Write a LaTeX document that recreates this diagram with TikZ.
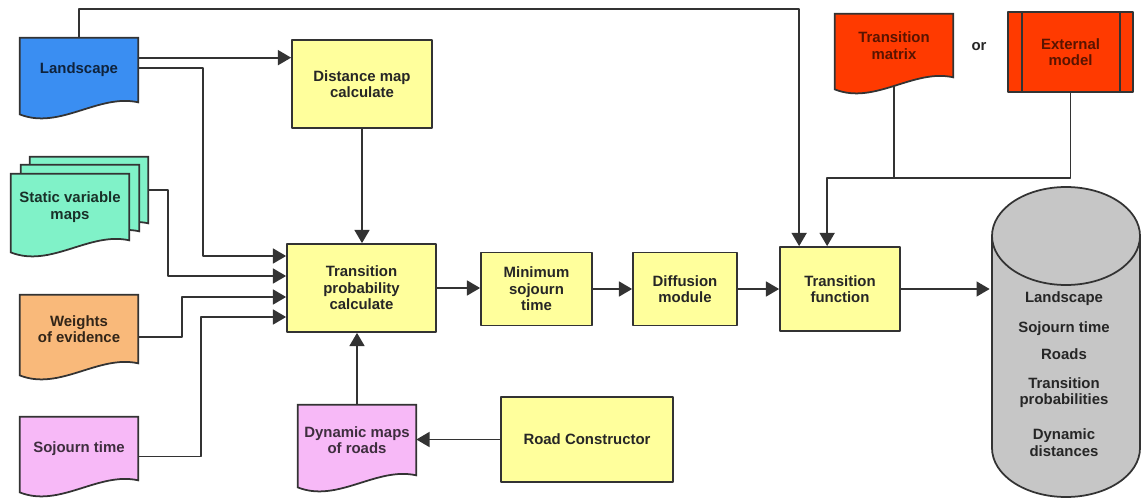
\documentclass[tikz,border=0pt]{standalone}
\usepackage{fontspec}
\setmainfont{Liberation Sans}
\usetikzlibrary{arrows.meta,calc,backgrounds}
\newcommand{\labelfont}{\fontsize{8.5}{9.4}\selectfont\bfseries}

\begin{document}
\begin{tikzpicture}
	[x=0.02cm,y=-0.02cm,line join=round,
	%Styles
	box/.style={draw=linegray,line width=1pt,fill=procyellow,align=center,font=\labelfont,text=black!85},
	doc/.style={minimum width=2.36cm,align=center,font=\labelfont,inner sep=0pt},
	docshape/.style={draw=linegray,line width=1pt,fill=#1},
	link/.style={draw=black!80,line width=1pt},
	flow/.style={link,-{Triangle[length=7.5pt,width=8.5pt]}}
	]

	%Colors
	\definecolor{procyellow}{HTML}{FFFF9C}
	\definecolor{landblue}{HTML}{3A8EF2}
	\definecolor{statgreen}{HTML}{80F2C8}
	\definecolor{wtsorange}{HTML}{F9B97A}
	\definecolor{sojpink}{HTML}{F7B9F7}
	\definecolor{modelred}{HTML}{FF3A00}
	\definecolor{dbgray}{HTML}{C6C6C6}
	\definecolor{linegray}{HTML}{333333}

	\useasboundingbox (0,0) rectangle (1142,500);

	%The graphic
	\node[doc,minimum height=1.28cm,text=landblue!25!black] (land) at (79,70) {Landscape};
	\node[doc,minimum height=1.32cm] (stat3) at (89,190) {};
	\node[doc,minimum height=1.32cm] (stat2) at (80,198) {};
	\node[doc,minimum height=1.32cm,text=statgreen!20!black] (stat1) at (70,207) {Static variable\\maps};
	\node[doc,minimum height=1.36cm,text=wtsorange!20!black] (wts) at (79,329) {Weights\\of evidence};
	\node[doc,minimum height=1.26cm,text=sojpink!25!black] (soj) at (79,448.5) {Sojourn time};
	\node[doc,minimum height=1.4cm,text=sojpink!25!black] (dyn) at (357,440) {Dynamic maps\\of roads};
	\node[doc,minimum height=1.26cm,text=modelred!35!black] (tm) at (894,45.5) {Transition\\matrix};

	\node[box,minimum width=2.8cm,minimum height=1.76cm] (dmc) at (362,84) {Distance map\\calculate};
	\node[box,minimum width=2.98cm,minimum height=1.76cm] (tpc) at (361.5,288) {Transition\\probability\\calculate};
	\node[box,minimum width=2.22cm,minimum height=1.46cm] (mst) at (536.5,289) {Minimum\\sojourn\\time};
	\node[box,minimum width=2.08cm,minimum height=1.46cm] (dif) at (685,289) {Diffusion\\module};
	\node[box,minimum width=2.4cm,minimum height=1.68cm] (tf) at (840,289) {Transition\\function};
	\node[box,minimum width=3.44cm,minimum height=1.7cm] (road) at (587,439.5) {Road Constructor};
	\node[box,fill=modelred,text=modelred!35!black,minimum width=2.5cm,minimum height=1.6cm] (ext) at (1070.5,52) {External\\model};
	\node[font=\labelfont,text=black!85] (or) at (979,47) {or};

	\draw[linegray,line width=1pt] ($(ext.north west)+(15,0)$) -- ($(ext.south west)+(15,0)$);
	\draw[linegray,line width=1pt] ($(ext.north east)+(-14,0)$) -- ($(ext.south east)+(-14,0)$);

	% document shapes behind the texts
	\begin{scope}[on background layer]
		\foreach \n/\c in {land/landblue,stat3/statgreen,stat2/statgreen,stat1/statgreen,wts/wtsorange,soj/sojpink,dyn/sojpink,tm/modelred}
			\path[docshape=\c] (\n.north west) -- (\n.north east) -- (\n.south east)
				.. controls +(-40,-9) and +(40,16) .. ($(\n.south west)+(0,12)$) -- cycle;
	\end{scope}

	% data base
	\filldraw[docshape=dbgray] (992,236) -- (992,448) arc[start angle=180,end angle=0,x radius=74,y radius=49] -- (1140,236) -- cycle;
	\filldraw[docshape=dbgray] (1066,236) ellipse[x radius=74,y radius=49];
	\node[font=\labelfont,align=center,text=black!85,minimum width=2.96cm] (db) at (1064,374)
		{Landscape\\[7.6pt]Sojourn time\\[5.9pt]Roads\\[7pt]Transition\\probabilities\\[10.4pt]Dynamic\\distances};

	\coordinate (landA) at ($(land.north east)+(0,20)$);
	\coordinate (landB) at ($(land.north east)+(0,30)$);
	\coordinate (tmB) at ($(tm.south)+(0,9)$);
	\coordinate (mix) at ($(ext.south)+(0,85)$);

	\draw[flow] (land.north) -- ++(0,-29) -| ($(tf.north west)+(20,0)$);
	\draw[flow] (landA) -- (landA -| dmc.west);
	\draw[flow] (landB) -- ++(65,0) |- ($(tpc.west)+(0,-32)$);
	\draw[flow] (stat3.east) -- ++(20,0) |- ($(tpc.west)+(0,-12)$);
	\draw[flow] ($(wts.east)+(0,8)$) -- ++(44,0) |- ($(tpc.west)+(0,9)$);
	\draw[flow] ($(soj.east)+(0,8)$) -- ++(63,0) |- ($(tpc.west)+(0,29)$);
	\draw[flow] (dmc.south) -- (dmc.south |- tpc.north);
	\draw[flow] (dyn.north) -- (dyn.north |- tpc.south);
	\draw[flow] (road.west) -- (road.west -| dyn.east);
	\draw[flow] (tpc.east) -- (tpc.east -| mst.west);
	\draw[flow] (mst.east) -- (mst.east -| dif.west);
	\draw[flow] (dif.east) -- (dif.east -| tf.west);
	\draw[flow] (tf.east) -- (tf.east -| db.west);
	\draw[link] (ext.south) -- (mix) -- (mix -| tmB);
	\draw[flow] (tmB) -- (tmB |- mix) -| ($(tf.north west)+(48,0)$);
\end{tikzpicture}
\end{document}
